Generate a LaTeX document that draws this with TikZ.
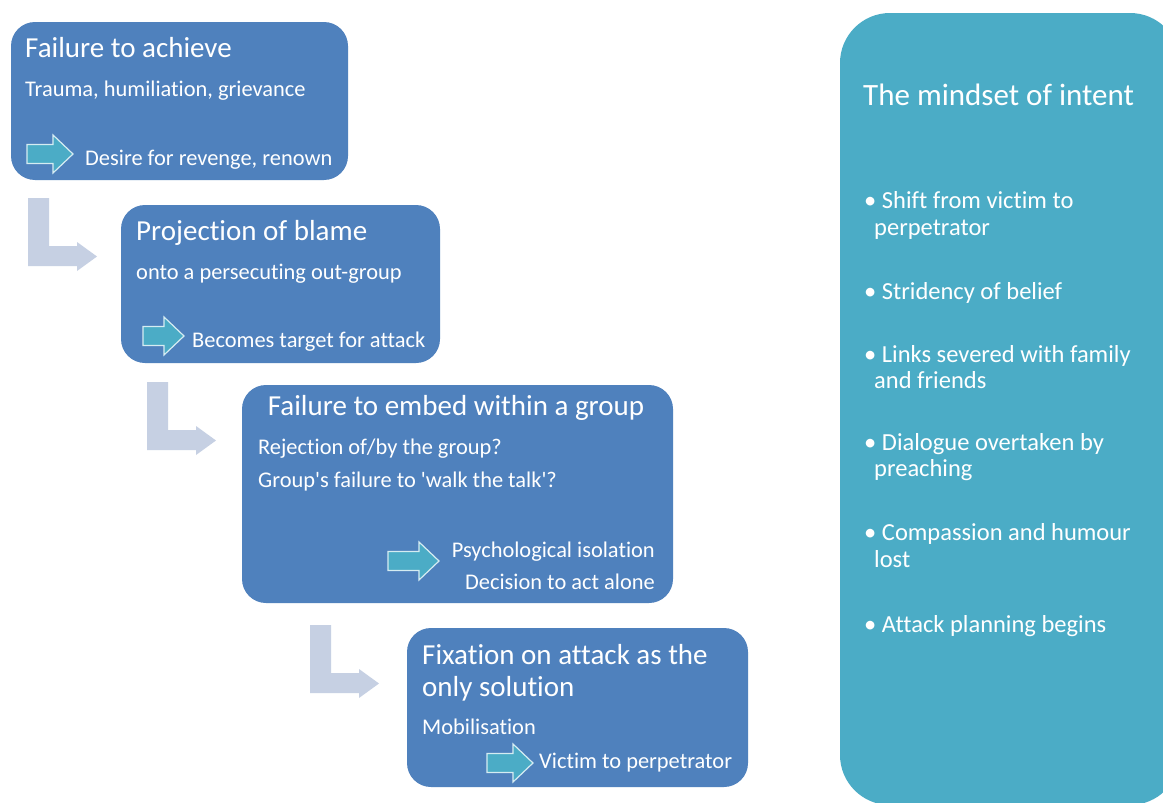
\documentclass[tikz,border=0pt]{standalone}
\usepackage{fontspec}
\newfontfamily\calibri{Carlito}[Ligatures=NoCommon]
\definecolor{boxblue}{HTML}{4F81BD}
\definecolor{panelteal}{HTML}{4BACC6}
\definecolor{bendgrey}{HTML}{C6D0E3}
\definecolor{cueedge}{HTML}{D5ECF2}
\tikzset{
  headtext/.style={anchor=base west,text=white,inner sep=0pt,font=\calibri\fontsize{29}{31}\selectfont},
  bodytext/.style={anchor=base west,text=white,inner sep=0pt,font=\calibri\fontsize{22.4}{26}\selectfont},
  listtext/.style={anchor=base west,text=white,inner sep=0pt,font=\calibri\fontsize{24.5}{28}\selectfont},
  stagebox/.style={fill=boxblue,rounded corners=24pt},
  bendarrow/.style={fill=bendgrey},
  cuearrow/.style={fill=panelteal,draw=cueedge,line width=1.2pt,line join=miter}
}
\begin{document}
\begin{tikzpicture}[x=1pt,y=-1pt]
    \clip (0,0) rectangle (1163,803);
    \fill[white] (0,0) rectangle (1163,803);
    \fill[panelteal,rounded corners=50pt] (840,13) rectangle (1180,805);
    \fill[stagebox] (11,22) rectangle (348,180);
    \fill[stagebox] (121,205) rectangle (440,363);
    \fill[stagebox] (242,385) rectangle (673,603);
    \fill[stagebox] (407,628) rectangle (748,787);
    \foreach \x/\y in {28/198,147/382,310/625}
    \fill[bendarrow] (\x,\y) -- ++(21,0) -- ++(0,48) -- ++(28,0) -- ++(0,-4) -- ++(20,14.5) -- ++(-20,14.5) -- ++(0,-5) -- ++(-49,0) -- cycle;
    \foreach \x/\y/\l in {27/154/26,143/336/21,388/561/31,487/763/26}
    \draw[cuearrow] (\x,\y) ++(0,-9.5) -- ++(\l,0) -- ++(0,-9.5) -- ++(20,19) -- ++(-20,19) -- ++(0,-9.5) -- ++(-\l,0) -- cycle;
    \node[headtext] (achieve) at (25,57) {Failure to achieve};
    \node[bodytext] (trauma) at (25,96) {Trauma, humiliation, grievance};
    \node[bodytext] (revenge) at (85,165) {Desire for revenge, renown};
    \node[headtext] (blame) at (136,240) {Projection of blame};
    \node[bodytext] (outgroup) at (136,279) {onto a persecuting out-group};
    \node[bodytext] (target) at (192,347) {Becomes target for attack};
    \node[headtext,anchor=base] (embed) at (456,415) {Failure to embed within a group};
    \node[bodytext] (rejection) at (258,454) {Rejection of/by the group?};
    \node[bodytext] (walktalk) at (258,487) {Group's failure to 'walk the talk'?};
    \node[bodytext,anchor=base east] (isolation) at (655,557) {Psychological isolation};
    \node[bodytext,anchor=base east] (alone) at (655,589) {Decision to act alone};
    \node[headtext] (fixation) at (422,664) {Fixation on attack as the};
    \node[headtext] (solution) at (422,696) {only solution};
    \node[bodytext] (mobilise) at (422,734) {Mobilisation};
    \node[bodytext] (victim) at (539,768) {Victim to perpetrator};
    \node[headtext,font=\calibri\fontsize{31}{33}\selectfont] (mindset) at (863,105) {The mindset of intent};
    \node[listtext] (shift) at (864,208) {\textbullet\ Shift from victim to};
    \node[listtext] (shiftb) at (874,235) {perpetrator};
    \node[listtext] (strident) at (864,299) {\textbullet\ Stridency of belief};
    \node[listtext] (links) at (864,362) {\textbullet\ Links severed with family};
    \node[listtext] (linksb) at (874,388) {and friends};
    \node[listtext] (dialogue) at (864,450) {\textbullet\ Dialogue overtaken by};
    \node[listtext] (dialogueb) at (874,476) {preaching};
    \node[listtext] (compassion) at (864,540) {\textbullet\ Compassion and humour};
    \node[listtext] (compassionb) at (874,567) {lost};
    \node[listtext] (planning) at (864,632) {\textbullet\ Attack planning begins};
\end{tikzpicture}
\end{document}
